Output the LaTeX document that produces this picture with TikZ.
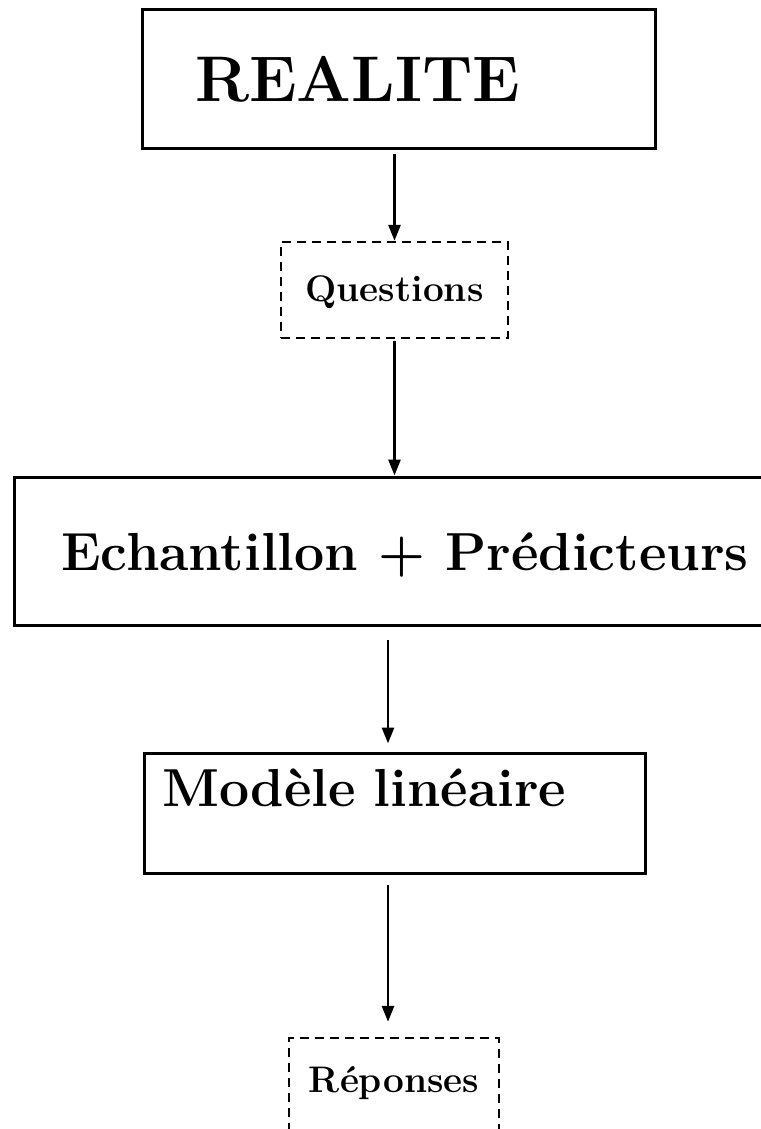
\documentclass[tikz,border=0pt]{standalone}
\usepackage{tikz}
\usetikzlibrary{arrows.meta}

\begin{document}
\begin{tikzpicture}[x=1pt,y=-1pt]
\tikzstyle{every node}+=[inner sep=0pt]
\tikzstyle{boite}=[draw,rectangle,line width=3pt]
\tikzstyle{pointille}=[draw,rectangle,line width=2.4pt,dash pattern=on 9pt off 6pt]
\tikzstyle{fleche}=[line width=2.8pt,-{Triangle[length=16pt,width=12pt]}]
\useasboundingbox (0,0) rectangle (760,1129);
\node[boite,minimum width=513pt,text width=407pt,align=left,text height=92pt,text depth=46pt,font=\fontsize{64.5}{70}\selectfont\bfseries] (realite) at (398.5,79) {REALITE};
\node[pointille,minimum width=227pt,text height=59pt,text depth=37pt,font=\fontsize{37}{40}\selectfont\bfseries] (questions) at (394.5,290) {Questions};
\node[boite,minimum width=782pt,text height=93pt,text depth=55pt,font=\fontsize{53.6}{58}\selectfont\bfseries] (echant) at (405,551) {Echantillon + Prédicteurs};
\node[boite,minimum width=501pt,text width=465pt,align=left,text height=53pt,text depth=67pt,font=\fontsize{53.5}{58}\selectfont\bfseries] (modele) at (394.5,813) {Modèle linéaire};
\node[pointille,minimum width=210pt,text height=54pt,text depth=56pt,font=\fontsize{37}{40}\selectfont\bfseries] (reponses) at (394,1093) {Réponses};
\draw[fleche,shorten <=4pt] (realite.south -| questions.north) -- (questions.north);
\draw[fleche,shorten <=2pt] (questions.south) -- (questions.south |- echant.north);
\draw[fleche,shorten <=13pt,shorten >=8pt] ([xshift=-17pt]echant.south) -- ([xshift=-6.5pt]modele.north);
\draw[fleche,shorten <=10pt,shorten >=15pt] ([xshift=-6.5pt]modele.south) -- ([xshift=-6pt]reponses.north);
\end{tikzpicture}
\end{document}
